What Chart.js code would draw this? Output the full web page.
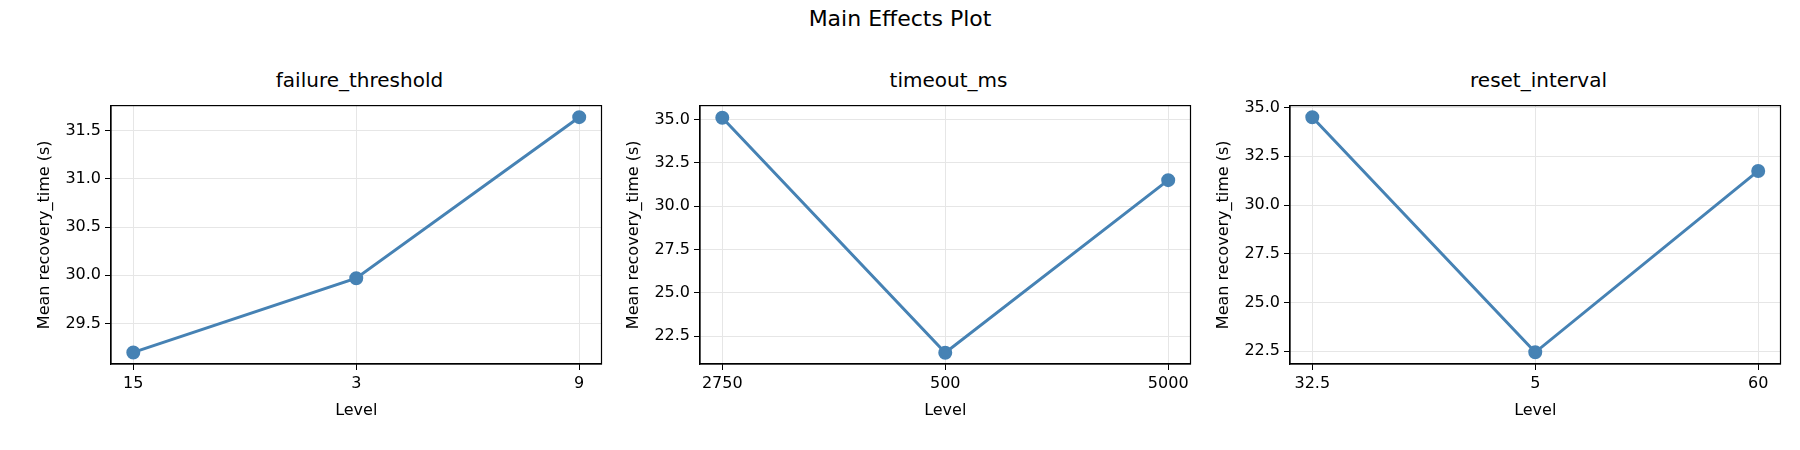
<!DOCTYPE html>
<html><head><meta charset="utf-8">
<script src="https://cdn.jsdelivr.net/npm/chart.js@4"></script>
<style>
body{margin:0;width:1800px;height:450px;background:#fff;position:relative;font-family:"DejaVu Sans";overflow:hidden}
.t{position:absolute;text-align:center;color:#000}
.c{position:absolute}
</style></head><body>
<div class="t" style="left:0;width:1800px;top:6px;font-size:22px">Main Effects Plot</div>
<script>
const titles=["failure_threshold","timeout_ms","reset_interval"];
const levels=[["15","3","9"],["2750","500","5000"],["32.5","5","60"]];
const means=[[29.2,29.97,31.64],[35.1,21.55,31.5],[34.5,22.45,31.75]];
const yTicks=[[29.5,30.0,30.5,31.0,31.5],[22.5,25.0,27.5,30.0,32.5,35.0],[22.5,25.0,27.5,30.0,32.5,35.0]];
const yRange=[[29.08,31.76],[20.9,35.8],[21.85,35.1]];
const areaLeft=[111,700,1290], areaW=497, areaTop=106, areaH=257, yW=80, xH=60, shift=13;
for(let i=0;i<3;i++){
  const tt=document.createElement('div');tt.className='t';
  tt.style.cssText=`left:${areaLeft[i]}px;width:${areaW}px;top:${areaTop-38}px;font-size:20px`;
  tt.textContent=titles[i];document.body.appendChild(tt);
  const d=document.createElement('div');d.className='c';
  d.style.cssText=`left:${areaLeft[i]-yW}px;top:${areaTop-1-shift}px;width:${areaW+yW+2}px;height:${areaH+xH+2+shift}px`;
  const cv=document.createElement('canvas');d.appendChild(cv);document.body.appendChild(d);
  new Chart(cv,{type:'line',data:{datasets:[{data:means[i].map((v,k)=>({x:k,y:v})),
    borderColor:'#4682b4',backgroundColor:'#4682b4',borderWidth:3,pointRadius:5.5,pointHoverRadius:5.5}]},
    options:{responsive:true,maintainAspectRatio:false,animation:false,
    layout:{padding:{top:1,right:1,left:0,bottom:0}},
    plugins:{legend:{display:false},tooltip:{enabled:false}},
    scales:{
      x:{type:'linear',min:-0.1,max:2.1,afterBuildTicks:a=>{a.ticks=[0,1,2].map(v=>({value:v}))},
        afterFit:a=>{a.height=xH},
        ticks:{callback:v=>levels[i][v],color:'#000',font:{family:'DejaVu Sans',size:16},maxRotation:0,padding:4},
        grid:{color:'#e6e6e6',tickColor:'#000',tickLength:6},border:{color:'#000',width:1.2},
        title:{display:true,text:'Level',color:'#000',font:{family:'DejaVu Sans',size:16},padding:{top:2}}},
      y:{min:yRange[i][0],max:yRange[i][1],afterBuildTicks:a=>{a.ticks=yTicks[i].map(v=>({value:v}))},
        afterFit:a=>{a.width=yW},
        ticks:{callback:v=>v.toFixed(1),color:'#000',font:{family:'DejaVu Sans',size:16},padding:4},
        grid:{color:'#e6e6e6',tickColor:'#000',tickLength:6},border:{color:'#000',width:1.2},
        title:{display:true,text:'Mean recovery_time (s)',color:'#000',font:{family:'DejaVu Sans',size:16},padding:{bottom:2}}}
    }},
    plugins:[{id:'box',afterDraw(c){const a=c.chartArea,x=c.ctx;x.save();x.strokeStyle='#000';x.lineWidth=1.2;x.strokeRect(a.left,a.top,a.right-a.left,a.bottom-a.top);x.restore();}}]
  });
}
</script></body></html>
